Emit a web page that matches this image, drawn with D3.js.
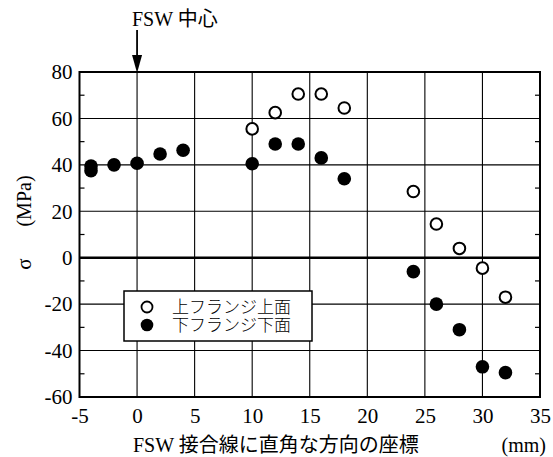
<!DOCTYPE html>
<html>
<head>
<meta charset="utf-8">
<script src="https://cdn.jsdelivr.net/npm/d3@7"></script>
<style>
  body { margin: 0; background: #fff; }
  svg text { font-family: "Liberation Serif", "Noto Sans CJK JP", serif; fill: #000; }
</style>
</head>
<body>
<svg id="chart" width="553" height="457"></svg>
<script>
// x positions (mm)
var upperX = [10, 12, 14, 16, 18, 24, 26, 28, 30, 32];
var upperY = [55.5, 62.5, 70.5, 70.5, 64.5, 28.5, 14.5, 4, -4.5, -17];
var lowerX = [-4, -4, -2, 0, 2, 4, 10, 12, 14, 16, 18, 24, 26, 28, 30, 32];
var lowerY = [39.5, 37.5, 40, 40.7, 44.7, 46.3, 40.5, 49, 49, 43, 34, -6, -20, -31, -47, -49.5];
var xTicks = [-5, 0, 5, 10, 15, 20, 25, 30, 35];
var yTicks = [-60, -40, -20, 0, 20, 40, 60, 80];
var yMinor = [-50, -30, -10, 10, 30, 50, 70];
var legendLabels = ["上フランジ上面", "下フランジ下面"];

var margin = {top: 72, right: 13, bottom: 60, left: 79.5},
    width = 553 - margin.left - margin.right,
    height = 457 - margin.top - margin.bottom;

var x = d3.scaleLinear().domain([-5, 35]).range([0, width]);
var y = d3.scaleLinear().domain([-60, 80]).range([height, 0]);

var svg = d3.select("#chart");
var g = svg.append("g")
    .attr("transform", "translate(" + margin.left + "," + margin.top + ")");

// grid
g.selectAll(".vgrid")
    .data(xTicks.slice(1, -1))
  .enter().append("line")
    .attr("x1", function(d) { return x(d); })
    .attr("x2", function(d) { return x(d); })
    .attr("y1", 0).attr("y2", height)
    .attr("stroke", "#000").attr("stroke-width", 1.1);

g.selectAll(".hgrid")
    .data(yTicks.slice(1, -1))
  .enter().append("line")
    .attr("x1", 0).attr("x2", width)
    .attr("y1", function(d) { return y(d); })
    .attr("y2", function(d) { return y(d); })
    .attr("stroke", "#000")
    .attr("stroke-width", function(d) { return d === 0 ? 2.6 : 1.1; });

// minor ticks left and right, inward
g.selectAll(".mtl")
    .data(yMinor)
  .enter().append("line")
    .attr("x1", 0).attr("x2", 5)
    .attr("y1", function(d) { return y(d); })
    .attr("y2", function(d) { return y(d); })
    .attr("stroke", "#000").attr("stroke-width", 1.2);
g.selectAll(".mtr")
    .data(yMinor)
  .enter().append("line")
    .attr("x1", width - 5).attr("x2", width)
    .attr("y1", function(d) { return y(d); })
    .attr("y2", function(d) { return y(d); })
    .attr("stroke", "#000").attr("stroke-width", 1.2);

// frame
g.append("rect")
    .attr("width", width).attr("height", height)
    .attr("fill", "none").attr("stroke", "#000").attr("stroke-width", 2);

// axes (labels only)
var fmt = function(d) { return String(d); };
var xAxis = d3.axisBottom(x).tickValues(xTicks).tickFormat(fmt).tickSize(0).tickPadding(11);
var yAxis = d3.axisLeft(y).tickValues(yTicks).tickFormat(fmt).tickSize(0).tickPadding(7);

var gx = g.append("g")
    .attr("transform", "translate(0," + height + ")")
    .call(xAxis);
var gy = g.append("g").call(yAxis);
[gx, gy].forEach(function(a) {
  a.attr("font-family", null).attr("font-size", null);
  a.select(".domain").remove();
  a.selectAll("text")
    .style("font-size", "21px")
    .style("fill", "#000");
});

// markers
g.selectAll(".up")
    .data(upperX)
  .enter().append("circle")
    .attr("cx", function(d) { return x(d); })
    .attr("cy", function(d, i) { return y(upperY[i]); })
    .attr("r", 5.8)
    .attr("fill", "#fff").attr("stroke", "#000").attr("stroke-width", 2);

g.selectAll(".lo")
    .data(lowerX)
  .enter().append("circle")
    .attr("cx", function(d) { return x(d); })
    .attr("cy", function(d, i) { return y(lowerY[i]); })
    .attr("r", 6.8)
    .attr("fill", "#000");

// legend
var lg = g.append("g").attr("transform", "translate(" + (124 - margin.left) + "," + (291 - margin.top) + ")");
lg.append("rect")
    .attr("width", 188).attr("height", 50)
    .attr("fill", "#fff").attr("stroke", "#000").attr("stroke-width", 1.5);
lg.append("circle").attr("cx", 23).attr("cy", 16).attr("r", 5.5)
    .attr("fill", "#fff").attr("stroke", "#000").attr("stroke-width", 1.8);
lg.append("circle").attr("cx", 23).attr("cy", 34).attr("r", 6.3)
    .attr("fill", "#000");
var lt = lg.append("text")
    .style("font-family", "'Noto Sans CJK JP'")
    .style("font-size", "17px")
    .style("font-weight", "300");
lt.selectAll("tspan")
    .data(legendLabels)
  .enter().append("tspan")
    .attr("x", 48)
    .attr("y", function(d, i) { return 22 + i * 18; })
    .text(function(d) { return d; });

// y label
svg.append("text")
    .attr("transform", "translate(31,264) rotate(-90)")
    .attr("text-anchor", "middle")
    .style("font-size", "21px")
    .text("σ");
svg.append("text")
    .attr("transform", "translate(31,201) rotate(-90)")
    .attr("text-anchor", "middle")
    .style("font-size", "20px")
    .text("(MPa)");

// x label
svg.append("text")
    .attr("x", 133).attr("y", 452)
    .style("font-size", "20px")
    .text("FSW 接合線に直角な方向の座標");
svg.append("text")
    .attr("x", 546).attr("y", 452)
    .attr("text-anchor", "end")
    .style("font-size", "20px")
    .text("(mm)");

// FSW centre marker
var cx = margin.left + x(0);
svg.append("text")
    .attr("x", 132).attr("y", 26)
    .style("font-size", "20px")
    .text("FSW 中心");
svg.append("line")
    .attr("x1", cx).attr("x2", cx)
    .attr("y1", 30).attr("y2", 58)
    .attr("stroke", "#000").attr("stroke-width", 1.8);
svg.append("path")
    .attr("d", "M" + (cx - 5) + ",55 L" + (cx + 5) + ",55 L" + cx + "," + (margin.top + 1) + "Z")
    .attr("fill", "#000");
</script>
</body>
</html>
